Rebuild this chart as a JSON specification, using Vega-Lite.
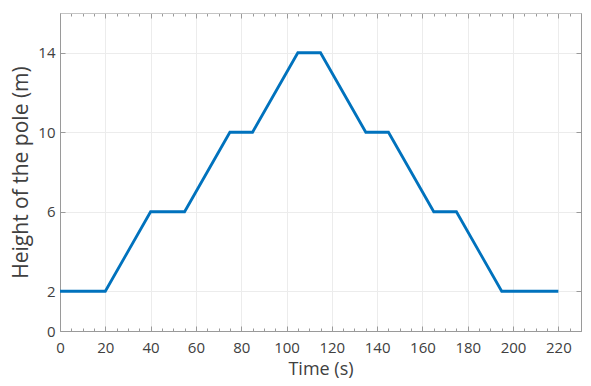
{
  "$schema": "https://vega.github.io/schema/vega-lite/v6.json",
  "width": 521,
  "height": 318,
  "autosize": "none",
  "padding": {"left": 60, "top": 13, "right": 10, "bottom": 55},
  "background": "white",
  "config": {
    "view": {"stroke": null},
    "font": "Open Sans",
    "axis": {
      "labelFont": "Open Sans",
      "titleFont": "Open Sans",
      "labelColor": "#404040",
      "titleColor": "#404040",
      "titleFontWeight": "normal",
      "domainColor": "#9a9a9a",
      "tickColor": "#9a9a9a",
      "gridColor": "#ececec",
      "labelFontSize": 15
    }
  },
  "data": {
    "values": [
      {"t": 0, "h": 2},
      {"t": 20, "h": 2},
      {"t": 40, "h": 6},
      {"t": 55, "h": 6},
      {"t": 75, "h": 10},
      {"t": 85, "h": 10},
      {"t": 105, "h": 14},
      {"t": 115, "h": 14},
      {"t": 135, "h": 10},
      {"t": 145, "h": 10},
      {"t": 165, "h": 6},
      {"t": 175, "h": 6},
      {"t": 195, "h": 2},
      {"t": 220, "h": 2}
    ]
  },
  "layer": [
    {
      "mark": {"type": "line", "color": "#0072BD", "strokeWidth": 2.8, "clip": true},
      "encoding": {
        "x": {
          "field": "t",
          "type": "quantitative",
          "scale": {"domain": [0, 230], "nice": false, "zero": false},
          "axis": {
            "title": "Time (s)",
            "titleFontSize": 18,
            "titlePadding": 5,
            "values": [0,5,10,15,20,25,30,35,40,45,50,55,60,65,70,75,80,85,90,95,100,105,110,115,120,125,130,135,140,145,150,155,160,165,170,175,180,185,190,195,200,205,210,215,220,225,230],
            "labelExpr": "datum.value % 20 === 0 ? datum.label : ''",
            "tickSize": {"condition": {"test": "datum.value % 20 === 0", "value": -5}, "value": -3},
            "gridOpacity": {"condition": {"test": "datum.value % 20 === 0", "value": 1}, "value": 0},
            "grid": true,
            "labelPadding": 14,
            "labelFlush": false
          }
        },
        "y": {
          "field": "h",
          "type": "quantitative",
          "scale": {"domain": [0, 16], "nice": false},
          "axis": {
            "title": "Height of the pole (m)",
            "titleFontSize": 21,
            "titlePadding": 6,
            "values": [0, 2, 6, 10, 14],
            "tickSize": -5,
            "grid": true,
            "labelPadding": 10
          }
        }
      }
    },
    {
      "mark": {"type": "line", "strokeOpacity": 0},
      "encoding": {
        "x": {
          "field": "t",
          "type": "quantitative",
          "axis": {
            "orient": "top",
            "title": null,
            "labels": false,
            "grid": false,
            "domainColor": "#c4c4c4",
            "values": [0,5,10,15,20,25,30,35,40,45,50,55,60,65,70,75,80,85,90,95,100,105,110,115,120,125,130,135,140,145,150,155,160,165,170,175,180,185,190,195,200,205,210,215,220,225,230],
            "tickSize": {"condition": {"test": "datum.value % 20 === 0", "value": -5}, "value": -3}
          }
        },
        "y": {
          "field": "h",
          "type": "quantitative",
          "axis": {
            "orient": "right",
            "title": null,
            "labels": false,
            "grid": false,
            "values": [0, 2, 6, 10, 14],
            "tickSize": -5
          }
        }
      }
    }
  ],
  "resolve": {"axis": {"x": "independent", "y": "independent"}}
}
